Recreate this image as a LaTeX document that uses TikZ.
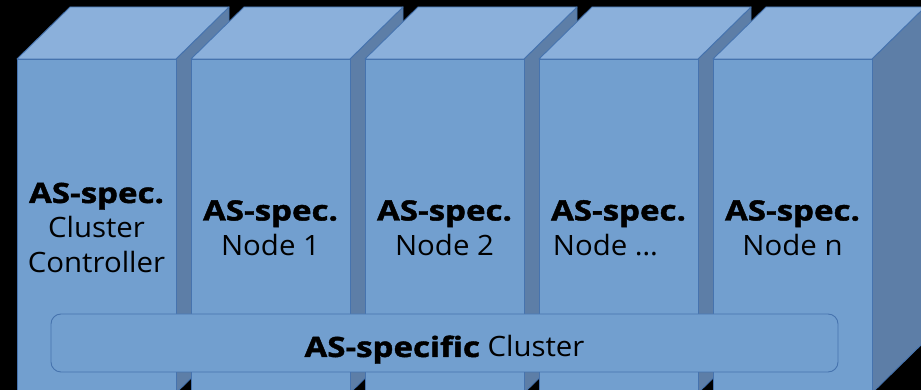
\documentclass[tikz,border=0pt]{standalone}
\usepackage{fontspec}
\setmainfont{Open Sans}[FakeStretch=1.05]
\newfontface\heavy{Open Sans Bold}[FakeStretch=1.18, FakeBold=1.5]
\definecolor{frontblue}{HTML}{729FCF}
\definecolor{topblue}{HTML}{8BB0DB}
\definecolor{sideblue}{HTML}{5D7EA7}
\definecolor{edgeblue}{HTML}{4673AE}

\begin{document}
\begin{tikzpicture}[x=1pt, y=1pt,
				face/.style = {draw=edgeblue, line width=0.9pt, line join=round},
				front/.style = {face, fill=frontblue},
				top/.style = {face, fill=topblue},
				side/.style = {face, fill=sideblue},
				boxlabel/.style = {align=center, inner sep=0pt, font=\fontsize{28}{35}\selectfont},
				cluster/.style = {face, fill=frontblue, rounded corners=10pt, minimum width=787pt, minimum height=58pt, inner sep=0pt, text height=28pt, text depth=0pt, font=\fontsize{28}{34}\selectfont}
			]
			\fill[black] (0,0) rectangle (921,390);
			\useasboundingbox (0,0) rectangle (921,390);
			\clip (0,0) rectangle (921,390);
			% five boxes, left to right
			\foreach \i in {0,...,4} {
				\pgfmathsetmacro\xl{17+174*\i}
				\pgfmathsetmacro\xr{\xl+159}
				\draw[side] (\xr,-3) -- (\xr,331) -- (\xr+53,383) -- (\xr+53,49) -- cycle;
				\draw[top] (\xl,331) -- (\xl+53,383) -- (\xr+53,383) -- (\xr,331) -- cycle;
				\draw[front] (\xl,-3) rectangle (\xr,331);
				\coordinate (box\i) at (\xl+79.5,162);
			}
			\node[boxlabel] (controller) at (box0) {{\heavy AS-spec.}\\Cluster\\Controller};
			\node[boxlabel] (node1) at (box1) {{\heavy AS-spec.}\\Node 1};
			\node[boxlabel] (node2) at (box2) {{\heavy AS-spec.}\\Node 2};
			\node[boxlabel] (node3) at (box3) {{\heavy AS-spec.}\\Node …\hspace*{26pt}};
			\node[boxlabel] (noden) at (box4) {{\heavy AS-spec.}\\Node n};
			\node[cluster] (asc) at (444.5,47) {{\heavy AS-specific} Cluster};
		\end{tikzpicture}
\end{document}
